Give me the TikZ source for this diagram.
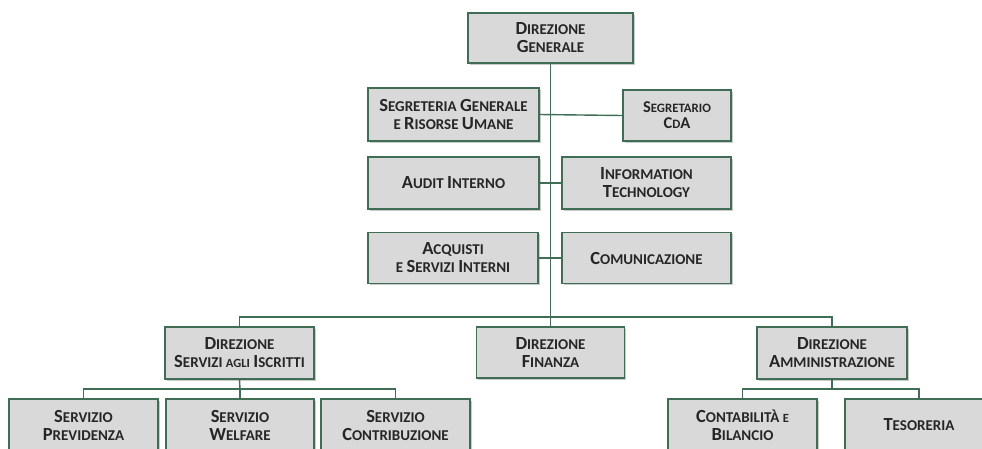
\documentclass[tikz,border=0pt]{standalone}
\usepackage{fontspec}
\setmainfont{Carlito}
\usetikzlibrary{shadows}
\definecolor{bordergreen}{HTML}{3F6E55}
\definecolor{boxgray}{HTML}{D9D9D9}
\definecolor{textc}{HTML}{262626}
\newcommand\Bg[1]{{\fontsize{18.5}{18}\selectfont#1}}
\newcommand\Bs[1]{{\fontsize{16.5}{16}\selectfont#1}}
\newcommand\Sm[1]{{\fontsize{12.5}{18}\selectfont#1}}
\tikzset{
  orgbox/.style={draw=bordergreen, line width=1.4pt, fill=boxgray,
    drop shadow={shadow xshift=1.5pt, shadow yshift=-1.5pt, opacity=0.35, fill=black!60},
    align=center, inner sep=0pt, text=textc,
    font=\bfseries\fontsize{15}{18}\selectfont},
  smallbox/.style={orgbox, font=\bfseries\fontsize{12.8}{16}\selectfont},
  link/.style={draw=bordergreen, line width=1.4pt}
}
\begin{document}
\begin{tikzpicture}[x=1pt,y=-1pt]
\useasboundingbox (0,0) rectangle (982,448);
\clip (0,0) rectangle (982,448);
% top
\node[orgbox, minimum width=165pt, minimum height=50pt] (dg) at (550.5,38) {\Bg{D}IREZIONE\\\Bg{G}ENERALE};
\node[orgbox, minimum width=171pt, minimum height=53pt] (sg) at (453.5,114.5) {\Bg{S}EGRETERIA \Bg{G}ENERALE\\E \Bg{R}ISORSE \Bg{U}MANE};
\node[smallbox, minimum width=108pt, minimum height=51pt] (cda) at (677,115.5) {\Bs{S}EGRETARIO\\\Bs{C}D\Bs{A}};
\node[orgbox, minimum width=171pt, minimum height=52pt] (audit) at (453.5,183) {\Bg{A}UDIT \Bg{I}NTERNO};
\node[orgbox, minimum width=169pt, minimum height=52pt] (it) at (646.5,183) {\Bg{I}NFORMATION\\\Bg{T}ECHNOLOGY};
\node[orgbox, minimum width=170pt, minimum height=51pt] (acq) at (453,258) {\Bg{A}CQUISTI\\E \Bg{S}ERVIZI \Bg{I}NTERNI};
\node[orgbox, minimum width=169pt, minimum height=51pt] (com) at (646.5,258) {\Bg{C}OMUNICAZIONE};
% second level
\node[orgbox, minimum width=149pt, minimum height=52pt] (dsi) at (239.5,353) {\Bg{D}IREZIONE\\\Bg{S}ERVIZI \Sm{AGLI} \Bg{I}SCRITTI};
\node[orgbox, minimum width=148pt, minimum height=51pt] (dfin) at (550.5,352.5) {\Bg{D}IREZIONE\\\Bg{F}INANZA};
\node[orgbox, minimum width=150pt, minimum height=52pt] (damm) at (832,353) {\Bg{D}IREZIONE\\\Bg{A}MMINISTRAZIONE};
% third level
\node[orgbox, minimum width=149pt, minimum height=52pt] (prev) at (83.5,425) {\Bg{S}ERVIZIO\\\Bg{P}REVIDENZA};
\node[orgbox, minimum width=148pt, minimum height=52pt] (welf) at (240,425) {\Bg{S}ERVIZIO\\\Bg{W}ELFARE};
\node[orgbox, minimum width=149pt, minimum height=52pt] (contr) at (395.5,425) {\Bg{S}ERVIZIO\\\Bg{C}ONTRIBUZIONE};
\node[orgbox, minimum width=149pt, minimum height=52pt] (cont) at (742.5,425) {\Bg{C}ONTABILITÀ \Sm{E}\\\Bg{B}ILANCIO};
\node[orgbox, minimum width=148pt, minimum height=52pt] (tes) at (919,425) {\Bg{T}ESORERIA};
% connectors
\coordinate (bus) at (550.5,317);
\coordinate (busL) at (240,389);
\coordinate (busR) at (832,389);
\draw[link] (dg.south) -- (dfin.north);
\draw[link] (sg.east) -- (cda.west);
\draw[link] (audit.east) -- (it.west);
\draw[link] (acq.east) -- (com.west);
\draw[link] (dsi.north) |- (bus) -| (damm.north);
\draw[link] (dsi.south) -- (busL);
\draw[link] (prev.north) |- (busL) -| (contr.north);
\draw[link] (welf.north) -- (busL);
\draw[link] (damm.south) -- (busR);
\draw[link] (cont.north) |- (busR) -| (tes.north);
\end{tikzpicture}
\end{document}
